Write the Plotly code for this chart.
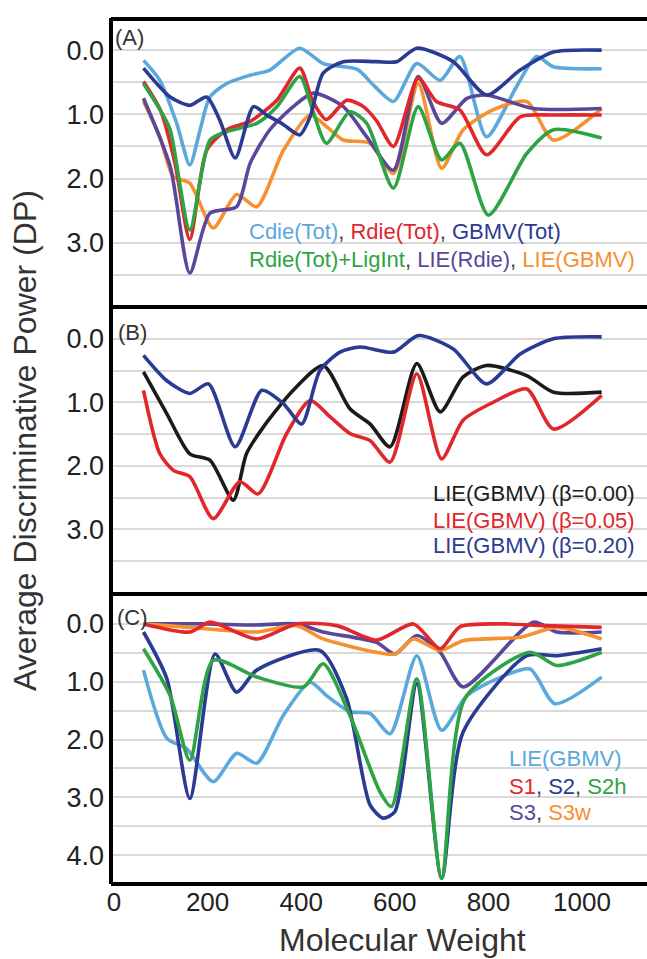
import plotly.graph_objects as go

# ---------------- data ----------------
# Panel A
A_cdie_x = [63, 98, 134, 162, 184, 205, 241, 291, 333, 397, 447, 520, 555, 597, 647, 697, 739, 796, 860, 903, 939, 1042]
A_cdie_y = [0.16, 0.47, 1.14, 1.79, 1.24, 0.73, 0.52, 0.39, 0.31, -0.03, 0.21, 0.30, 0.55, 0.80, 0.21, 0.47, 0.10, 1.35, 0.57, 0.10, 0.26, 0.29]
A_rdie_x = [63, 100, 130, 162, 198, 241, 291, 348, 397, 425, 454, 497, 533, 561, 597, 650, 689, 739, 796, 868, 939, 1042]
A_rdie_y = [0.49, 0.95, 1.75, 2.95, 1.56, 1.24, 1.11, 0.78, 0.28, 0.80, 1.08, 0.78, 0.88, 1.10, 1.50, 0.44, 0.80, 0.93, 1.63, 1.04, 1.01, 1.01]
A_gbmv_x = [63, 120, 162, 198, 226, 259, 298, 326, 360, 397, 419, 447, 490, 561, 604, 647, 725, 796, 868, 939, 1042]
A_gbmv_y = [0.28, 0.73, 0.86, 0.73, 1.09, 1.68, 0.88, 1.01, 1.15, 1.32, 1.04, 0.36, 0.18, 0.18, 0.18, -0.03, 0.18, 0.70, 0.31, 0.03, 0.00]
A_lig_x = [63, 100, 120, 162, 205, 241, 305, 348, 397, 425, 454, 504, 540, 597, 650, 700, 739, 800, 882, 939, 1042]
A_lig_y = [0.52, 0.95, 1.24, 2.80, 1.40, 1.27, 1.14, 0.88, 0.41, 0.95, 1.45, 0.96, 1.14, 2.15, 0.88, 1.71, 1.45, 2.57, 1.61, 1.24, 1.37]
A_lierdie_x = [63, 120, 162, 205, 262, 291, 333, 383, 426, 490, 540, 597, 650, 700, 754, 796, 896, 1042]
A_lierdie_y = [0.75, 1.81, 3.47, 2.54, 2.44, 1.76, 1.24, 0.88, 0.67, 0.88, 1.35, 1.87, 0.41, 1.14, 0.75, 0.70, 0.91, 0.91]
A_liegbmv_x = [63, 98, 127, 162, 212, 262, 305, 362, 419, 454, 490, 547, 597, 650, 700, 746, 810, 882, 939, 1042]
A_liegbmv_y = [0.80, 1.35, 1.97, 2.07, 2.77, 2.25, 2.44, 1.56, 1.01, 1.19, 1.40, 1.45, 1.92, 0.52, 1.84, 1.24, 0.93, 0.80, 1.40, 0.91]

# Panel B
B_b000_x = [63, 113, 162, 205, 255, 283, 319, 383, 447, 504, 547, 590, 647, 697, 746, 796, 882, 939, 1042]
B_b000_y = [0.52, 1.18, 1.81, 1.91, 2.54, 1.81, 1.39, 0.81, 0.42, 1.10, 1.34, 1.70, 0.39, 1.15, 0.60, 0.42, 0.58, 0.84, 0.84]
B_b005_x = [63, 98, 127, 162, 212, 269, 308, 369, 419, 462, 504, 547, 590, 647, 700, 746, 810, 882, 939, 1042]
B_b005_y = [0.81, 1.81, 2.07, 2.17, 2.83, 2.25, 2.44, 1.49, 0.97, 1.23, 1.49, 1.60, 1.94, 0.55, 1.89, 1.28, 1.00, 0.79, 1.42, 0.89]
B_b020_x = [63, 113, 162, 202, 259, 316, 362, 401, 440, 483, 526, 597, 650, 725, 796, 868, 939, 1042]
B_b020_y = [0.26, 0.66, 0.86, 0.71, 1.70, 0.81, 1.02, 1.34, 0.50, 0.21, 0.13, 0.21, -0.05, 0.16, 0.71, 0.24, 0.00, -0.03]

# Panel C
C_lie_x = [63, 113, 155, 212, 262, 305, 362, 419, 454, 504, 547, 590, 647, 700, 754, 818, 889, 942, 1042]
C_lie_y = [0.80, 1.98, 2.16, 2.73, 2.24, 2.41, 1.58, 1.01, 1.24, 1.52, 1.55, 1.90, 0.55, 1.84, 1.24, 0.95, 0.78, 1.38, 0.92]
C_s1_x = [63, 162, 205, 305, 390, 476, 561, 640, 697, 739, 832, 918, 1042]
C_s1_y = [0.00, 0.14, -0.03, 0.26, 0.00, 0.03, 0.28, 0.00, 0.43, 0.05, 0.00, 0.03, 0.06]
C_s2_x = [63, 113, 162, 216, 262, 305, 440, 497, 547, 575, 600, 647, 700, 746, 882, 946, 1042]
C_s2_y = [0.14, 0.95, 3.02, 0.52, 1.18, 0.80, 0.46, 1.29, 3.13, 3.36, 3.25, 1.03, 4.40, 1.87, 0.55, 0.55, 0.43]
C_s2h_x = [63, 120, 162, 212, 305, 405, 447, 504, 568, 593, 647, 700, 750, 889, 946, 1042]
C_s2h_y = [0.43, 1.24, 2.36, 0.63, 0.92, 1.09, 0.69, 1.58, 2.90, 3.16, 0.95, 4.40, 1.29, 0.49, 0.72, 0.49]
C_s3_x = [63, 200, 300, 390, 447, 561, 600, 647, 697, 746, 896, 946, 1042]
C_s3_y = [0.00, 0.00, 0.02, 0.00, 0.14, 0.32, 0.52, 0.20, 0.49, 1.09, -0.03, 0.14, 0.14]
C_s3w_x = [63, 162, 305, 390, 447, 561, 600, 640, 697, 746, 868, 946, 1042]
C_s3w_y = [0.00, 0.06, 0.14, 0.03, 0.26, 0.49, 0.52, 0.26, 0.46, 0.29, 0.23, 0.06, 0.26]

x_tick_vals = [0, 200, 400, 600, 800, 1000]
y_tick_vals = [0, 0.5, 1, 1.5, 2, 2.5, 3, 3.5, 4]
y_tick_text = ["0.0", "", "1.0", "", "2.0", "", "3.0", "", "4.0"]

# ---------------- styles ----------------
LBLUE = "#5aa8dc"
RED = "#e1262c"
DBLUE = "#2b3b93"
GREEN = "#2da343"
PURPLE = "#5a479c"
ORANGE = "#f5912e"
BLACK = "#1b1b1b"
FONT = "Liberation Sans, Arial, sans-serif"

W, H = 647, 959
ML = 111


def px_x(px):
    return (px - ML) / (W - ML)


def px_y(py):
    return 1 - py / H


fig = go.Figure()


def add(x, y, color, axis):
    fig.add_trace(go.Scatter(
        x=x, y=y, mode="lines",
        line=dict(color=color, width=3.6, shape="spline", smoothing=0.7),
        xaxis="x" if axis == 1 else f"x{axis}",
        yaxis="y" if axis == 1 else f"y{axis}",
        showlegend=False, hoverinfo="skip"))


# panel A (axis 1)
add(A_cdie_x, A_cdie_y, LBLUE, 1)
add(A_liegbmv_x, A_liegbmv_y, ORANGE, 1)
add(A_lierdie_x, A_lierdie_y, PURPLE, 1)
add(A_rdie_x, A_rdie_y, RED, 1)
add(A_lig_x, A_lig_y, GREEN, 1)
add(A_gbmv_x, A_gbmv_y, DBLUE, 1)
# panel B (axis 2)
add(B_b000_x, B_b000_y, BLACK, 2)
add(B_b005_x, B_b005_y, RED, 2)
add(B_b020_x, B_b020_y, DBLUE, 2)
# panel C (axis 3)
add(C_lie_x, C_lie_y, LBLUE, 3)
add(C_s3_x, C_s3_y, PURPLE, 3)
add(C_s3w_x, C_s3w_y, ORANGE, 3)
add(C_s1_x, C_s1_y, RED, 3)
add(C_s2_x, C_s2_y, DBLUE, 3)
add(C_s2h_x, C_s2h_y, GREEN, 3)

panels = {
    1: (18, 307, [-0.5, 4.0]),
    2: (307, 593, [-0.5, 4.0]),
    3: (595, 884, [-0.5, 4.5]),
}

xr = [-6.4, (W - 114) / 0.468]

layout = dict(
    width=W, height=H,
    margin=dict(l=ML, r=0, t=0, b=0, autoexpand=False),
    paper_bgcolor="white", plot_bgcolor="white",
    font=dict(family=FONT, color="#222"),
)

for i, (top, bot, yr) in panels.items():
    xs = "xaxis" if i == 1 else f"xaxis{i}"
    ys = "yaxis" if i == 1 else f"yaxis{i}"
    layout[xs] = dict(
        domain=[0, 1], range=xr, anchor="y" if i == 1 else f"y{i}",
        showgrid=False, zeroline=False, showline=False,
        tickvals=x_tick_vals, showticklabels=(i == 3),
        ticks="", tickfont=dict(size=26, color="#222", family=FONT),
    )
    tv = [v for v in y_tick_vals if v < yr[1]]
    tt = y_tick_text[:len(tv)]
    layout[ys] = dict(
        domain=[px_y(bot), px_y(top)], range=[yr[1], yr[0]],
        anchor="x" if i == 1 else f"x{i}",
        tickvals=tv, ticktext=tt, showgrid=True, gridcolor="#d9d9d9", gridwidth=2,
        zeroline=False, showline=False, ticks="",
        tickfont=dict(size=27, color="#222", family=FONT),
        ticklabelstandoff=6,
    )

fig.update_layout(**layout)

# borders
shapes = []
bk = dict(color="black", width=4)
shapes.append(dict(type="line", xref="paper", yref="paper", x0=0, x1=0,
                   y0=px_y(884), y1=px_y(18), line=bk))
for yb in [19, 307, 594, 884]:
    shapes.append(dict(type="line", xref="paper", yref="paper", x0=0, x1=1,
                       y0=px_y(yb), y1=px_y(yb), line=bk))
fig.update_layout(shapes=shapes)


def sp(t, c):
    return f"<span style='color:{c}'>{t}</span>"


SEP = "#444"
ann = []


def text(px, py, t, size, xanchor="left", **kw):
    ann.append(dict(x=px_x(px), y=px_y(py), xref="paper", yref="paper", text=t,
                    showarrow=False, xanchor=xanchor, yanchor="middle",
                    font=dict(size=size, family=FONT, color="#333"), **kw))


text(113, 38, "(A)", 22)
text(116, 332, "(B)", 22)
text(115, 617, "(C)", 22)

text(247, 231, sp("Cdie(Tot)", LBLUE) + sp(", ", SEP) + sp("Rdie(Tot)", RED) + sp(", ", SEP) + sp("GBMV(Tot)", DBLUE), 22)
text(247, 259, sp("Rdie(Tot)+LigInt", GREEN) + sp(", ", SEP) + sp("LIE(Rdie)", PURPLE) + sp(", ", SEP) + sp("LIE(GBMV)", ORANGE), 22)

text(431, 493, sp("LIE(GBMV) (β=0.00)", BLACK), 22)
text(431, 520, sp("LIE(GBMV) (β=0.05)", RED), 22)
text(431, 545, sp("LIE(GBMV) (β=0.20)", DBLUE), 22)

text(507, 758, sp("LIE(GBMV)", LBLUE), 22)
text(507, 786, sp("S1", RED) + sp(", ", SEP) + sp("S2", DBLUE) + sp(", ", SEP) + sp("S2h", GREEN), 22)
text(507, 812, sp("S3", PURPLE) + sp(", ", SEP) + sp("S3w", ORANGE), 22)

text(402, 940, "Molecular Weight", 32, xanchor="center")
text(25, 441, "Average Discriminative Power (DP)", 32, xanchor="center", textangle=-90)

fig.update_layout(annotations=ann)

fig.write_html("out.html")
